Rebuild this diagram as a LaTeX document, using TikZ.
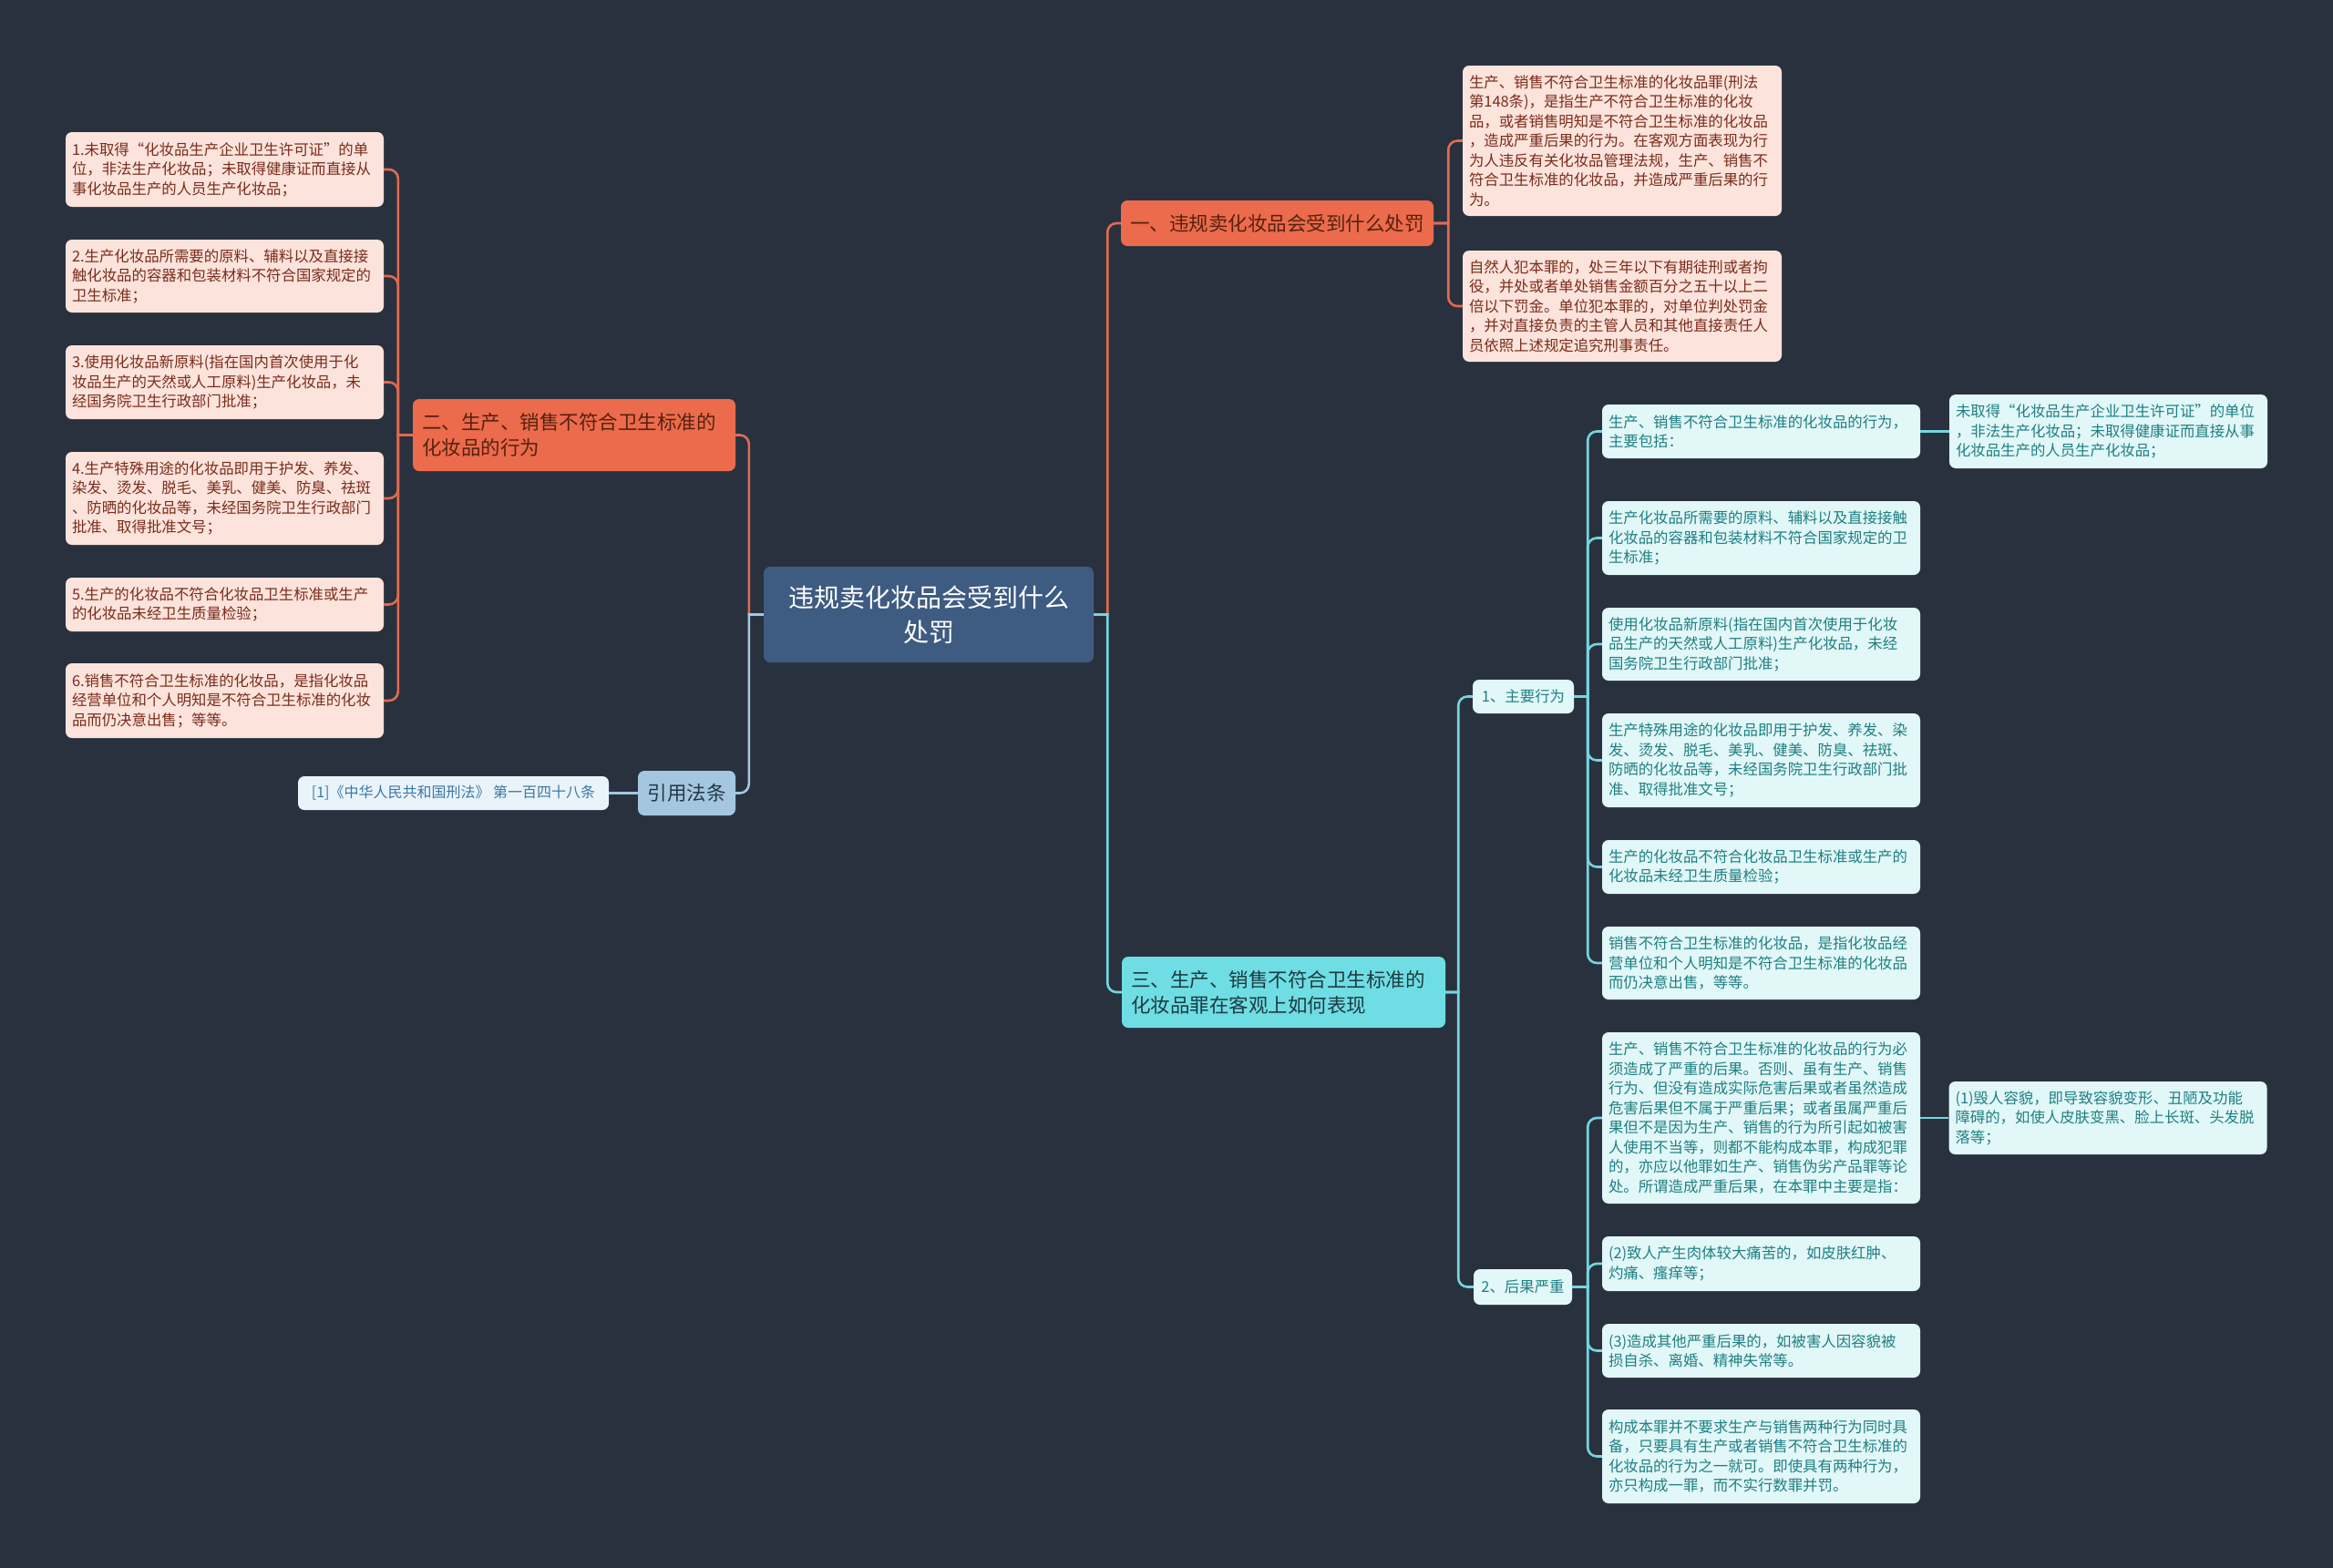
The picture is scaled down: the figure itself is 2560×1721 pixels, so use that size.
\documentclass[tikz,border=0pt]{standalone}
\usepackage{fontspec}
\setmainfont{Noto Sans CJK SC}
\definecolor{bg}{HTML}{29313F}
\definecolor{rootF}{HTML}{3E5B82}
\definecolor{orangeN}{HTML}{EB6B4C}
\definecolor{orangeL}{HTML}{E26A4E}
\definecolor{orangeT}{HTML}{56210F}
\definecolor{pinkF}{HTML}{FCE3DB}
\definecolor{pinkT}{HTML}{7A2C1C}
\definecolor{cyanN}{HTML}{6FDDE4}
\definecolor{cyanL}{HTML}{74D6E0}
\definecolor{cyanF}{HTML}{E2F7F8}
\definecolor{cyanT}{HTML}{1E7F82}
\definecolor{cyanNT}{HTML}{1C3B40}
\definecolor{blueN}{HTML}{A4C7DF}
\definecolor{blueNT}{HTML}{233849}
\definecolor{blueF}{HTML}{E9F4FA}
\definecolor{blueT}{HTML}{3B78A4}
\tikzset{
  box/.style={rounded corners=7pt, inner ysep=0pt, align=left},
  rootbox/.style={box, fill=rootF, text=white, align=center, text width=340pt,
    font=\fontsize{28}{38}\selectfont},
  redmid/.style={box, fill=orangeN, text=orangeT, inner xsep=10pt,
    font=\fontsize{21.5}{28}\selectfont},
  redleaf/.style={box, fill=pinkF, text=pinkT, text width=335pt, inner xsep=7pt,
    font=\fontsize{16.4}{21.5}\selectfont},
  cyanmid/.style={box, fill=cyanN, text=cyanNT, inner xsep=10pt,
    font=\fontsize{21.5}{28}\selectfont},
  cyansub/.style={box, fill=cyanF, text=cyanT, inner xsep=8pt,
    font=\fontsize{16.4}{21}\selectfont},
  cyanleaf/.style={box, fill=cyanF, text=cyanT, text width=335pt, inner xsep=7pt,
    font=\fontsize{16.4}{21.5}\selectfont},
  bluemid/.style={box, fill=blueN, text=blueNT, inner xsep=10pt,
    font=\fontsize{21.5}{28}\selectfont},
  blueleaf/.style={box, fill=blueF, text=blueT, inner xsep=8pt,
    font=\fontsize{16}{20}\selectfont},
  redline/.style={draw=orangeL, line width=2.6pt},
  cyanline/.style={draw=cyanL, line width=2.6pt},
  blueline/.style={draw=blueN, line width=2.6pt}
}
\begin{document}
\begin{tikzpicture}[x=1pt, y=-1pt]
\fill[bg] (0,0) rectangle (2560,1721);

% root
\node[rootbox, minimum width=362pt, minimum height=105pt] (root) at (1019,674.5) {违规卖化妆品会受到什么\\处罚};

% left: 二
\node[redmid, text width=334pt, minimum height=79pt] (two) at (630,477.5) {二、生产、销售不符合卫生标准的\\化妆品的行为};
\node[redleaf, minimum height=82pt] (l1) at (246.5,186) {1.未取得“化妆品生产企业卫生许可证”的单\\位，非法生产化妆品；未取得健康证而直接从\\事化妆品生产的人员生产化妆品；};
\node[redleaf, minimum height=80pt] (l2) at (246.5,303) {2.生产化妆品所需要的原料、辅料以及直接接\\触化妆品的容器和包装材料不符合国家规定的\\卫生标准；};
\node[redleaf, minimum height=81pt] (l3) at (246.5,419.5) {3.使用化妆品新原料(指在国内首次使用于化\\妆品生产的天然或人工原料)生产化妆品，未\\经国务院卫生行政部门批准；};
\node[redleaf, minimum height=102pt] (l4) at (246.5,547) {4.生产特殊用途的化妆品即用于护发、养发、\\染发、烫发、脱毛、美乳、健美、防臭、祛斑\\、防晒的化妆品等，未经国务院卫生行政部门\\批准、取得批准文号；};
\node[redleaf, minimum height=59pt] (l5) at (246.5,663.5) {5.生产的化妆品不符合化妆品卫生标准或生产\\的化妆品未经卫生质量检验；};
\node[redleaf, minimum height=82pt] (l6) at (246.5,769) {6.销售不符合卫生标准的化妆品，是指化妆品\\经营单位和个人明知是不符合卫生标准的化妆\\品而仍决意出售；等等。};

% left: 引用法条
\node[bluemid, minimum width=107pt, minimum height=49pt] (cite) at (753.5,870.5) {引用法条};
\node[blueleaf, minimum width=341pt, minimum height=37pt] (law) at (497.5,870.5) {[1]《中华人民共和国刑法》 第一百四十八条};

% right: 一
\node[redmid, text width=323pt, minimum height=50pt] (one) at (1401.5,245) {一、违规卖化妆品会受到什么处罚};
\node[redleaf, text width=336pt, minimum height=165pt] (r1) at (1780,154.5) {生产、销售不符合卫生标准的化妆品罪(刑法\\第148条)，是指生产不符合卫生标准的化妆\\品，或者销售明知是不符合卫生标准的化妆品\\，造成严重后果的行为。在客观方面表现为行\\为人违反有关化妆品管理法规，生产、销售不\\符合卫生标准的化妆品，并造成严重后果的行\\为。};
\node[redleaf, text width=336pt, minimum height=122pt] (r2) at (1780,336) {自然人犯本罪的，处三年以下有期徒刑或者拘\\役，并处或者单处销售金额百分之五十以上二\\倍以下罚金。单位犯本罪的，对单位判处罚金\\，并对直接负责的主管人员和其他直接责任人\\员依照上述规定追究刑事责任。};

% right: 三
\node[cyanmid, text width=335pt, minimum height=78pt] (three) at (1408.5,1089) {三、生产、销售不符合卫生标准的\\化妆品罪在客观上如何表现};
\node[cyansub, minimum width=111pt, minimum height=37pt] (acts) at (1671.5,764.5) {1、主要行为};
\node[cyansub, minimum width=108pt, minimum height=39pt] (harm) at (1671,1412.5) {2、后果严重};

\node[cyanleaf, minimum height=59pt] (c1) at (1932.5,473.5) {生产、销售不符合卫生标准的化妆品的行为，\\主要包括：};
\node[cyanleaf, minimum height=81pt] (d1) at (2313.5,473.5) {未取得“化妆品生产企业卫生许可证”的单位\\，非法生产化妆品；未取得健康证而直接从事\\化妆品生产的人员生产化妆品；};
\node[cyanleaf, minimum height=81pt] (c2) at (1932.5,590.5) {生产化妆品所需要的原料、辅料以及直接接触\\化妆品的容器和包装材料不符合国家规定的卫\\生标准；};
\node[cyanleaf, minimum height=80pt] (c3) at (1932.5,707) {使用化妆品新原料(指在国内首次使用于化妆\\品生产的天然或人工原料)生产化妆品，未经\\国务院卫生行政部门批准；};
\node[cyanleaf, minimum height=103pt] (c4) at (1932.5,834.5) {生产特殊用途的化妆品即用于护发、养发、染\\发、烫发、脱毛、美乳、健美、防臭、祛斑、\\防晒的化妆品等，未经国务院卫生行政部门批\\准、取得批准文号；};
\node[cyanleaf, minimum height=59pt] (c5) at (1932.5,951.5) {生产的化妆品不符合化妆品卫生标准或生产的\\化妆品未经卫生质量检验；};
\node[cyanleaf, minimum height=80pt] (c6) at (1932.5,1057) {销售不符合卫生标准的化妆品，是指化妆品经\\营单位和个人明知是不符合卫生标准的化妆品\\而仍决意出售，等等。};

\node[cyanleaf, minimum height=188pt] (e1) at (1932.5,1227) {生产、销售不符合卫生标准的化妆品的行为必\\须造成了严重的后果。否则、虽有生产、销售\\行为、但没有造成实际危害后果或者虽然造成\\危害后果但不属于严重后果；或者虽属严重后\\果但不是因为生产、销售的行为所引起如被害\\人使用不当等，则都不能构成本罪，构成犯罪\\的，亦应以他罪如生产、销售伪劣产品罪等论\\处。所谓造成严重后果，在本罪中主要是指：};
\node[cyanleaf, minimum height=80pt] (f1) at (2313,1227) {(1)毁人容貌，即导致容貌变形、丑陋及功能\\障碍的，如使人皮肤变黑、脸上长斑、头发脱\\落等；};
\node[cyanleaf, minimum height=60pt] (e2) at (1932.5,1387) {(2)致人产生肉体较大痛苦的，如皮肤红肿、\\灼痛、瘙痒等；};
\node[cyanleaf, minimum height=59pt] (e3) at (1932.5,1482.5) {(3)造成其他严重后果的，如被害人因容貌被\\损自杀、离婚、精神失常等。};
\node[cyanleaf, minimum height=103pt] (e4) at (1932.5,1598.5) {构成本罪并不要求生产与销售两种行为同时具\\备，只要具有生产或者销售不符合卫生标准的\\化妆品的行为之一就可。即使具有两种行为，\\亦只构成一罪，而不实行数罪并罚。};

% connectors
\draw[redline] (root.west) -- ++(-16,0) [rounded corners=10pt] |- (two.east);
\draw[blueline] (root.west) -- ++(-16,0) [rounded corners=10pt] |- (cite.east);
\draw[redline] (root.east) -- ++(15,0) [rounded corners=10pt] |- (one.west);
\draw[cyanline] (root.east) -- ++(15,0) [rounded corners=10pt] |- (three.west);
\foreach \n in {l1,l2,l3,l4,l5,l6}
  \draw[redline] (two.west) -- ++(-16,0) [rounded corners=10pt] |- (\n.east);
\draw[blueline] (cite.west) -- (law.east);
\foreach \n in {r1,r2}
  \draw[redline] (one.east) -- ++(16,0) [rounded corners=10pt] |- (\n.west);
\foreach \n in {acts,harm}
  \draw[cyanline] (three.east) -- ++(14,0) [rounded corners=10pt] |- (\n.west);
\foreach \n in {c1,c2,c3,c4,c5,c6}
  \draw[cyanline] (acts.east) -- ++(15,0) [rounded corners=10pt] |- (\n.west);
\foreach \n in {e1,e2,e3,e4}
  \draw[cyanline] (harm.east) -- ++(17,0) [rounded corners=10pt] |- (\n.west);
\draw[cyanline] (c1.east) -- (d1.west);
\draw[cyanline] (e1.east) -- (f1.west);
\end{tikzpicture}
\end{document}
